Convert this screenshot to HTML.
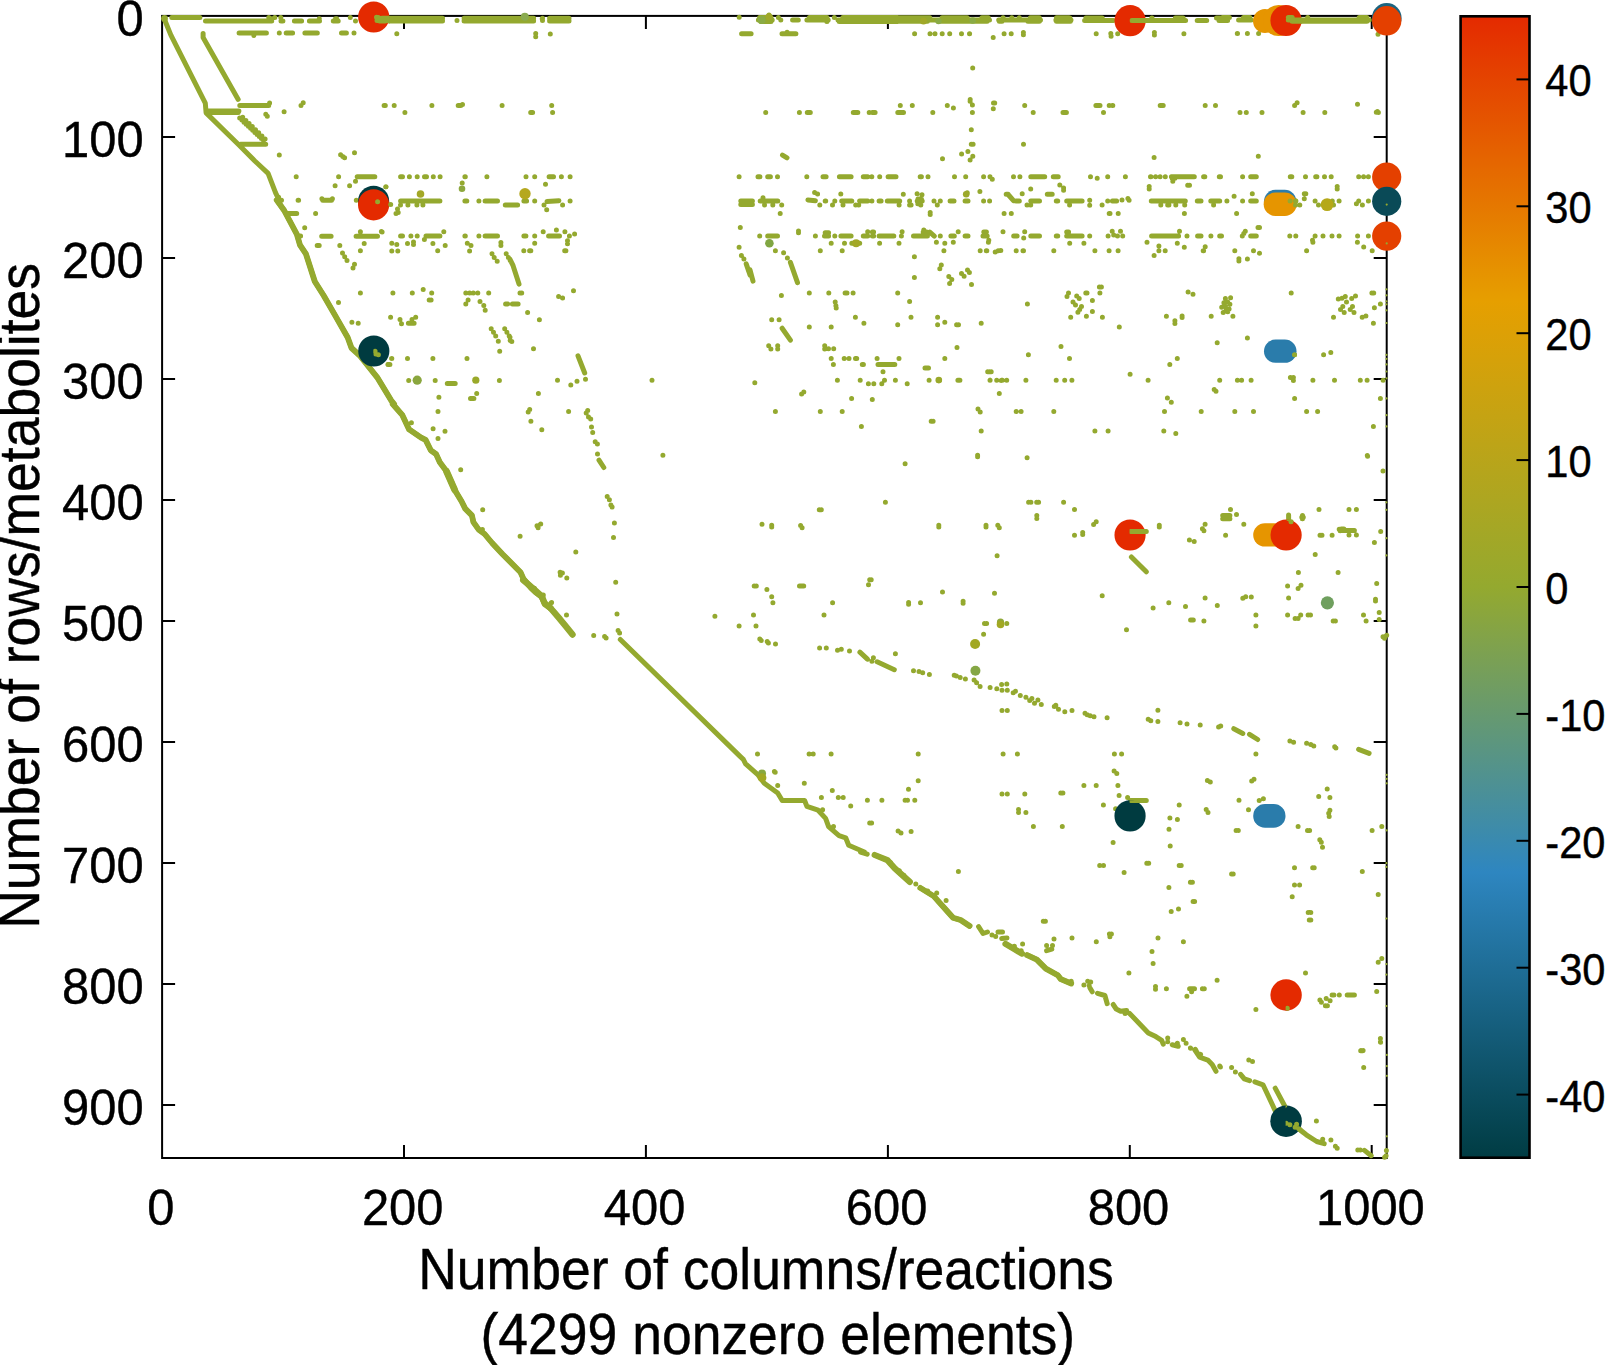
<!DOCTYPE html><html><head><meta charset="utf-8"><title>Stoichiometric matrix sparsity</title><style>html,body{margin:0;padding:0;background:#fff}svg{display:block}</style></head><body><svg width="1608" height="1365" viewBox="0 0 1608 1365">
<defs><linearGradient id="cb" x1="0" y1="1" x2="0" y2="0"><stop offset="0" stop-color="#003c43"/><stop offset="0.25" stop-color="#2e86c0"/><stop offset="0.5" stop-color="#94a92f"/><stop offset="0.75" stop-color="#e69f00"/><stop offset="1" stop-color="#e42a00"/></linearGradient></defs>
<rect width="1608" height="1365" fill="#fff"/>
<g stroke="#000" stroke-width="2" fill="none" stroke-linecap="butt">
<rect x="162.1" y="15.9" width="1224.6000000000001" height="1142.1"/>
<path d="M404.0 1158.0V1145.0M404.0 15.9V28.9"/>
<path d="M645.9 1158.0V1145.0M645.9 15.9V28.9"/>
<path d="M887.9 1158.0V1145.0M887.9 15.9V28.9"/>
<path d="M1129.8 1158.0V1145.0M1129.8 15.9V28.9"/>
<path d="M1371.7 1158.0V1145.0M1371.7 15.9V28.9"/>
<path d="M162.1 136.9H175.1M1386.7 136.9H1373.7"/>
<path d="M162.1 257.9H175.1M1386.7 257.9H1373.7"/>
<path d="M162.1 378.9H175.1M1386.7 378.9H1373.7"/>
<path d="M162.1 499.9H175.1M1386.7 499.9H1373.7"/>
<path d="M162.1 620.9H175.1M1386.7 620.9H1373.7"/>
<path d="M162.1 742.0H175.1M1386.7 742.0H1373.7"/>
<path d="M162.1 863.0H175.1M1386.7 863.0H1373.7"/>
<path d="M162.1 984.0H175.1M1386.7 984.0H1373.7"/>
<path d="M162.1 1105.0H175.1M1386.7 1105.0H1373.7"/>
</g>
<rect x="1460.6" y="16.3" width="68.90000000000009" height="1141.4" fill="url(#cb)" stroke="#000" stroke-width="2.6"/>
<g stroke="#000" stroke-width="2">
<path d="M1529.5 1094.6H1516.5"/>
<path d="M1529.5 967.7H1516.5"/>
<path d="M1529.5 840.8H1516.5"/>
<path d="M1529.5 713.9H1516.5"/>
<path d="M1529.5 587.0H1516.5"/>
<path d="M1529.5 460.1H1516.5"/>
<path d="M1529.5 333.2H1516.5"/>
<path d="M1529.5 206.3H1516.5"/>
<path d="M1529.5 79.4H1516.5"/>
</g>
<g font-family="Liberation Sans, Arial, Helvetica, sans-serif" fill="#000" stroke="#000" stroke-width="0.4">
<text transform="translate(160.8,1225.1) scale(1,1.04)" font-size="48.9" text-anchor="middle">0</text>
<text transform="translate(402.7,1225.1) scale(1,1.04)" font-size="48.9" text-anchor="middle">200</text>
<text transform="translate(644.6,1225.1) scale(1,1.04)" font-size="48.9" text-anchor="middle">400</text>
<text transform="translate(886.6,1225.1) scale(1,1.04)" font-size="48.9" text-anchor="middle">600</text>
<text transform="translate(1128.5,1225.1) scale(1,1.04)" font-size="48.9" text-anchor="middle">800</text>
<text transform="translate(1370.4,1225.1) scale(1,1.04)" font-size="48.9" text-anchor="middle">1000</text>
<text transform="translate(143.6,36.0) scale(1,1.04)" font-size="48.9" text-anchor="end">0</text>
<text transform="translate(143.6,157.0) scale(1,1.04)" font-size="48.9" text-anchor="end">100</text>
<text transform="translate(143.6,278.0) scale(1,1.04)" font-size="48.9" text-anchor="end">200</text>
<text transform="translate(143.6,399.0) scale(1,1.04)" font-size="48.9" text-anchor="end">300</text>
<text transform="translate(143.6,520.0) scale(1,1.04)" font-size="48.9" text-anchor="end">400</text>
<text transform="translate(143.6,641.0) scale(1,1.04)" font-size="48.9" text-anchor="end">500</text>
<text transform="translate(143.6,762.1) scale(1,1.04)" font-size="48.9" text-anchor="end">600</text>
<text transform="translate(143.6,883.1) scale(1,1.04)" font-size="48.9" text-anchor="end">700</text>
<text transform="translate(143.6,1004.1) scale(1,1.04)" font-size="48.9" text-anchor="end">800</text>
<text transform="translate(143.6,1125.1) scale(1,1.04)" font-size="48.9" text-anchor="end">900</text>
<text transform="translate(1545.3,1111.5) scale(1,1.045)" font-size="41.6" text-anchor="start">-40</text>
<text transform="translate(1545.3,984.6) scale(1,1.045)" font-size="41.6" text-anchor="start">-30</text>
<text transform="translate(1545.3,857.7) scale(1,1.045)" font-size="41.6" text-anchor="start">-20</text>
<text transform="translate(1545.3,730.8) scale(1,1.045)" font-size="41.6" text-anchor="start">-10</text>
<text transform="translate(1545.3,603.9) scale(1,1.045)" font-size="41.6" text-anchor="start">0</text>
<text transform="translate(1545.3,477.0) scale(1,1.045)" font-size="41.6" text-anchor="start">10</text>
<text transform="translate(1545.3,350.1) scale(1,1.045)" font-size="41.6" text-anchor="start">20</text>
<text transform="translate(1545.3,223.2) scale(1,1.045)" font-size="41.6" text-anchor="start">30</text>
<text transform="translate(1545.3,96.3) scale(1,1.045)" font-size="41.6" text-anchor="start">40</text>
<text transform="translate(766.0,1288.9) scale(1,1.06)" font-size="53.5" text-anchor="middle">Number of columns/reactions</text>
<text transform="translate(777.8,1354.3) scale(1,1.06)" font-size="53.5" text-anchor="middle">(4299 nonzero elements)</text>
<text transform="translate(39.2,595.9) rotate(-90) scale(1,1.06)" font-size="53.5" text-anchor="middle">Number of rows/metabolites</text>
</g>
<path id="ol" d="M164.2 18.7L170.9 35.1L205.3 103.1L206.1 112.9L238.2 144.2L254.6 160.7L268.1 173.4L275.6 192.8L280.0 201.8M203.1 33.6L203.1 37.4L238.2 99.4M239.8 105.4L268.7 105.4M301.0 105.4L301.0 105.4M384.1 105.4L385.3 105.4M269.6 103.1h0M303.2 102.8h0M253.9 35.4h0M206.1 110.9L238.9 110.9M206.1 112.4L238.2 112.4M239.7 118.1h0M241.9 120.1h0M244.0 122.2h0M246.2 124.2h0M248.4 126.2h0M250.6 128.3h0M252.7 130.3h0M254.9 132.4h0M257.1 134.4h0M259.3 136.4h0M261.4 138.5h0M263.6 140.5h0M242.7 117.3h0M245.9 120.4h0M249.1 123.5h0M252.3 126.6h0M255.5 129.7h0M258.7 132.8h0M261.9 135.9h0M265.1 139.0h0M240.6 144.2L265.7 144.2M171.8 17.6L199.9 17.6M268.8 17.6L268.8 17.6M274.8 17.6L274.8 17.6M280.8 17.6L280.8 17.6M350.3 17.6h0M378.3 17.6L378.3 17.6M205.5 20.9L271.7 20.9M281.0 20.9L282.9 20.9M294.4 20.9L301.6 20.9M309.4 20.9L319.5 20.9M333.3 20.9L338.2 20.9M355.5 20.9h0M379.6 20.9L385.3 20.9M271.8 18.7L271.8 18.7M319.3 18.7L319.3 18.7M335.5 18.7L336.7 18.7M387.7 18.7h0M239.1 32.9L266.4 32.9M279.3 32.9h0M286.2 32.9L292.6 32.9M304.9 32.9L317.3 32.9M341.5 32.9L346.4 32.9M354.0 32.9h0M265.8 114.3h0M267.3 116.3h0M284.1 111.8h0M279.3 155.0h0M340.6 154.7h0M342.8 156.5h0M344.6 157.7h0M354.5 152.8h0M296.2 176.8h0M338.6 176.8h0M355.5 181.2h0M335.1 185.7h0M349.6 185.7h0M385.9 186.8h0M357.2 176.8L374.8 176.8M281.5 200.3h0M298.1 200.3L298.6 200.3M322.8 200.3L331.5 200.3M356.3 200.3h0M321.9 198.8h0M332.4 198.8h0M278.6 197.3h0M392.6 20.5L442.5 20.5M457.0 20.5h0M464.1 20.5L497.6 20.5M392.6 18.7L409.5 18.7M396.8 33.8h0M482.4 20.5L533.6 20.5M542.5 20.5L542.5 20.5M549.6 20.5L569.0 20.5M484.9 18.7L485.1 18.7M500.5 18.7L500.5 18.7M529.7 18.7L532.3 18.7M542.2 18.7h0M552.1 18.7L552.2 18.7M562.0 18.7L568.4 18.7M535.7 33.6h0M535.7 36.7h0M550.3 34.0h0M758.4 19.9L772.2 19.9M780.8 19.9h0M792.6 19.9L798.3 19.9M806.9 19.9L828.2 19.9M838.0 19.9L897.6 19.9M759.6 17.4L771.0 17.4M778.4 17.4h0M809.4 17.4L827.0 17.4M834.3 17.4h0M842.9 17.4L897.6 17.4M760.9 21.4L771.0 21.4M826.8 21.4L827.0 21.4M839.2 21.4L897.6 21.4M739.2 17.2h0M769.0 14.9h0M741.6 33.8L751.1 33.8M782.0 33.8L795.9 33.8M787.1 32.3h0M882.4 19.9L989.5 19.9M998.7 19.9L1040.5 19.9M1055.9 19.9L1071.0 19.9M882.4 17.7L929.8 17.7M942.1 17.7L967.2 17.7M981.9 17.7L988.3 17.7M1003.1 17.7L1003.1 17.7M1011.8 17.7h0M1019.3 17.7h0M1030.4 17.7L1039.3 17.7M1056.5 17.7L1069.1 17.7M882.4 21.3L927.4 21.3M940.9 21.3L987.1 21.3M999.3 21.3L1002.0 21.3M1027.9 21.3L1039.3 21.3M1056.5 21.3L1070.4 21.3M914.6 33.8h0M930.0 33.8h0M935.0 33.8h0M942.2 33.8h0M949.7 33.8L949.7 33.8M961.5 33.8h0M969.5 33.8L969.6 33.8M1004.1 33.8h0M1011.2 33.8h0M993.2 37.6h0M972.7 68.0h0M1023.4 32.6h0M1023.4 34.8h0M970.2 99.5h0M1032.4 20.5L1040.0 20.5M1056.0 20.5L1070.5 20.5M1084.6 20.5L1113.4 20.5M1131.9 20.5L1185.6 20.5M1197.2 20.5L1206.7 20.5M1219.0 20.5L1227.6 20.5M1032.4 18.0L1038.8 18.0M1057.3 18.0L1069.9 18.0M1085.9 18.0L1102.2 18.0M1151.8 18.0L1152.0 18.0M1175.4 18.0L1183.1 18.0M1216.5 18.0L1227.6 18.0M1096.2 33.8h0M1110.8 33.6h0M1111.1 36.3h0M1117.7 33.8h0M1154.4 32.6h0M1154.4 35.1h0M1183.9 33.8h0M1221.9 19.9L1221.9 19.9M1238.6 19.9L1251.2 19.9M1288.3 19.9L1369.3 19.9M1222.4 17.4L1229.4 17.4M1243.5 17.4L1249.9 17.4M1288.3 17.4L1292.2 17.4M1307.7 17.4L1307.7 17.4M1359.2 17.4L1366.9 17.4M1292.1 21.3L1366.9 21.3M1237.3 33.6L1237.5 33.6M1247.4 33.6h0M1258.6 33.6h0M1378.0 34.2h0M377.0 20.5L387.8 20.5M376.5 17.2h0M382.0 18.2L442.5 18.2M464.1 18.2L497.6 18.2M389.5 21.1L442.5 21.1M464.1 21.1L497.6 21.1M482.4 18.2L533.6 18.2M542.5 18.2L542.5 18.2M549.6 18.2L569.0 18.2M482.4 21.1L533.6 21.1M549.6 21.1L569.0 21.1M394.2 105.5h0M431.9 105.5h0M458.2 105.5L460.8 105.5M502.1 105.5h0M551.7 105.5h0M404.9 112.5h0M552.6 112.5h0M462.5 104.6h0M530.7 112.5L532.6 112.5M400.6 176.8L402.5 176.8M409.4 176.8h0M417.2 176.8h0M424.5 176.8L426.5 176.8M433.3 176.8h0M440.1 176.8L440.1 176.8M464.9 176.8L465.3 176.8M486.9 176.8h0M526.0 176.8h0M534.7 176.8h0M549.1 176.8L553.5 176.8M561.4 176.8h0M570.1 176.8h0M462.2 183.0h0M545.5 184.2h0M400.6 201.1L439.9 201.1M464.9 201.1L466.8 201.1M478.9 201.1h0M485.1 201.1L497.5 201.1M523.9 201.1L526.6 201.1M534.7 201.1h0M570.1 201.1h0M505.3 204.9L517.6 204.9M400.5 204.9h0M407.9 204.9h0M416.9 204.9h0M422.9 204.9h0M390.7 204.4h0M397.5 208.9h0M398.2 212.6h0M396.0 213.4h0M546.7 209.7h0M544.0 204.9h0M562.6 204.9h0M547.0 201.4L558.9 200.7M400.6 236.1L402.5 236.1M410.9 236.1h0M417.2 236.1h0M426.0 236.1L439.9 236.1M464.9 236.1L465.3 236.1M478.9 236.1h0M485.1 236.1L497.5 236.1M523.9 236.1L525.9 236.1M534.7 236.1h0M548.6 236.1L559.5 236.1M569.4 236.1h0M443.8 231.8h0M424.4 239.6h0M543.2 231.8h0M556.4 230.1h0M564.9 231.8h0M574.6 234.0h0M765.7 112.5h0M799.4 112.5h0M807.3 112.5L810.3 112.5M853.3 112.5L857.8 112.5M869.2 112.5h0M782.5 155.1L787.0 157.8M739.1 176.8h0M758.0 176.8L759.9 176.8M767.7 176.8L770.4 176.8M777.5 176.8h0M806.8 176.8h0M823.0 176.8L826.1 176.8M839.4 176.8L851.1 176.8M863.3 176.8L867.7 176.8M740.8 201.1L752.4 201.1M760.2 201.1L777.8 201.1M825.2 201.1L825.7 201.1M834.8 201.1h0M841.7 201.1L851.8 201.1M859.6 201.1L867.7 201.1M740.8 204.4L752.4 204.4M763.0 197.7h0M764.5 204.9h0M772.8 204.9h0M781.7 204.9h0M780.2 213.4h0M814.6 192.5h0M817.6 194.0h0M819.8 204.9h0M832.5 204.9h0M840.8 194.0h0M843.0 204.9h0M855.7 204.9h0M858.7 204.9h0M807.9 199.9L815.4 200.7M759.7 236.1L759.7 236.1M767.7 236.1L777.5 236.1M815.4 236.1h0M824.5 236.1L828.6 236.1M834.8 236.1h0M840.9 236.1L851.1 236.1M863.3 236.1L867.7 236.1M825.2 232.8L828.6 232.8M740.3 227.6h0M798.5 231.0h0M798.5 232.8h0M867.7 231.8h0M900.3 105.5h0M912.3 105.5h0M947.3 105.5h0M1024.7 105.5h0M1095.9 105.5L1100.0 105.5M1109.2 105.5h0M953.4 108.0h0M970.1 101.3h0M972.4 105.0h0M993.3 108.8h0M993.5 103.1L994.7 103.1M872.4 112.5L875.1 112.5M897.8 112.5L903.5 112.5M932.8 112.5h0M972.4 112.5h0M1033.2 112.5h0M1063.0 112.5L1066.4 112.5M1103.5 112.5h0M971.3 129.7h0M971.3 144.2h0M973.1 144.2h0M1023.5 144.2h0M967.9 151.4h0M961.6 154.1h0M972.8 156.3h0M970.1 160.0h0M942.5 158.8h0M871.8 176.8h0M879.7 176.8L879.7 176.8M888.1 176.8L896.0 176.8M920.2 176.8L921.4 176.8M928.0 176.8h0M954.5 176.8h0M965.7 176.8h0M983.6 176.8h0M990.0 176.8L990.0 176.8M1013.5 176.8L1013.5 176.8M1019.9 176.8h0M1030.8 176.8L1044.7 176.8M1053.3 176.8L1058.2 176.8M1090.5 176.8h0M1107.7 176.8h0M992.3 179.3h0M1097.2 178.3h0M1059.8 185.0h0M1063.6 188.0h0M1063.6 190.2h0M1030.7 189.0h0M979.9 191.4h0M1022.2 193.7h0M966.4 193.7h0M967.2 192.8h0M903.3 194.3L903.3 194.3M1006.2 194.3L1008.1 194.3M1047.3 194.3L1052.2 194.3M917.1 193.7h0M922.0 194.7h0M871.9 201.1L871.9 201.1M879.1 201.1L881.1 201.1M887.3 201.1L899.7 201.1M917.2 201.1L922.2 201.1M934.0 201.1h0M940.3 201.1h0M950.1 201.1L954.0 201.1M965.1 201.1L968.0 201.1M983.6 201.1h0M989.6 201.1h0M1015.9 201.1L1019.3 201.1M1030.8 201.1L1039.5 201.1M1056.3 201.1L1057.7 201.1M1066.7 201.1L1082.1 201.1M1107.7 201.1L1107.7 201.1M918.0 198.9L921.4 198.9M899.1 204.9h0M909.6 201.1h0M909.6 204.9h0M911.1 204.9h0M920.8 204.9h0M917.8 203.7h0M937.3 204.9h0M1027.0 204.9h0M1030.7 204.9h0M1069.6 204.9h0M1089.7 200.2h0M1089.7 205.2h0M1102.1 204.9h0M1009.0 195.5L1013.5 200.7M930.2 212.6h0M930.2 214.6h0M1004.1 213.4h0M1011.3 213.4h0M1109.2 213.4h0M872.4 236.1L873.6 236.1M879.1 236.1L893.8 236.1M901.4 236.1h0M913.5 236.1L927.4 236.1M940.3 236.1h0M950.9 236.1L954.3 236.1M965.1 236.1L968.0 236.1M983.0 236.1L987.2 236.1M1013.7 236.1L1017.1 236.1M1030.8 236.1L1039.5 236.1M1056.3 236.1L1057.7 236.1M1066.7 236.1L1082.1 236.1M1089.7 236.1h0M1108.1 236.1L1108.1 236.1M872.4 232.1L873.6 232.1M923.2 232.1L926.6 232.1M983.8 232.1L986.4 232.1M1066.7 232.1L1068.6 232.1M902.1 231.8h0M923.8 230.1h0M958.2 231.8h0M988.8 240.3h0M1003.0 231.8h0M1024.7 231.8h0M1023.7 238.1h0M929.8 232.1L934.3 236.1M1112.4 105.5L1112.8 105.5M1160.2 105.5L1163.2 105.5M1205.2 105.5h0M1215.5 105.5L1215.5 105.5M1294.6 105.5h0M1297.1 102.8h0M1240.0 112.5h0M1246.3 112.5h0M1262.0 112.5h0M1303.1 112.5h0M1324.8 112.5h0M1154.1 157.6h0M1258.3 156.3h0M1125.4 176.8h0M1150.5 176.8L1150.9 176.8M1155.6 176.8h0M1160.1 176.8h0M1165.3 176.8h0M1171.4 176.8L1194.3 176.8M1203.6 176.8L1204.8 176.8M1219.3 176.8L1220.5 176.8M1242.6 176.8h0M1250.7 176.8L1256.3 176.8M1290.3 176.8L1291.8 176.8M1305.5 176.8h0M1315.7 176.8L1316.9 176.8M1324.5 176.8L1324.5 176.8M1331.2 176.8h0M1172.2 178.3L1174.9 178.3M1172.8 181.3h0M1187.7 185.3h0M1189.5 185.3h0M1149.2 186.5h0M1149.2 189.0h0M1337.2 186.5h0M1337.2 189.0h0M1112.4 201.1L1116.6 201.1M1151.3 201.1L1185.3 201.1M1197.3 201.1L1201.0 201.1M1210.8 201.1L1219.7 201.1M1226.9 201.1h0M1242.6 201.1h0M1250.7 201.1L1256.3 201.1M1290.1 201.1h0M1295.5 201.1L1295.9 201.1M1315.1 201.1h0M1332.3 201.1L1332.3 201.1M1339.1 201.1L1339.1 201.1M1160.8 204.9L1160.8 204.9M1167.7 204.9L1168.9 204.9M1175.8 204.9h0M1184.7 204.9h0M1213.6 204.9h0M1299.8 204.9h0M1318.5 204.9h0M1333.5 204.9h0M1295.4 204.9h0M1122.0 199.9h0M1127.9 198.4h0M1129.1 200.2h0M1234.1 196.2h0M1252.3 193.7h0M1304.3 193.7h0M1305.8 193.7h0M1304.3 198.7h0M1110.0 213.4h0M1118.2 213.4h0M1184.4 213.4h0M1236.6 213.4h0M1258.0 227.6h0M1259.5 227.6h0M1117.5 236.1h0M1122.7 236.1h0M1151.6 236.1L1178.6 236.1M1187.0 236.1h0M1197.6 236.1L1201.0 236.1M1210.9 236.1L1210.9 236.1M1219.7 236.1L1221.5 236.1M1242.3 236.1h0M1250.7 236.1L1256.3 236.1M1289.8 236.1h0M1295.8 236.1h0M1315.1 236.1h0M1323.0 236.1h0M1332.0 236.1L1332.0 236.1M1339.1 236.1L1339.1 236.1M1112.2 231.3h0M1120.5 231.3h0M1113.7 235.1h0M1179.5 231.3h0M1245.3 231.3h0M1243.8 233.6h0M1312.5 240.3h0M1357.5 104.3h0M1376.3 112.2h0M1378.4 112.5h0M1377.4 111.4h0M1358.7 176.8h0M1363.6 176.8h0M1368.4 176.8h0M1356.4 203.7h0M1358.7 201.1h0M1362.4 204.9h0M1368.4 201.1h0M1357.6 236.1L1357.6 236.1M1368.4 236.1h0M276.7 200.0L284.2 210.5L296.9 234.4L299.9 244.8L305.9 253.8L314.8 281.5L323.8 295.7L335.8 316.6L347.7 337.5L351.5 348.0L359.7 355.5L377.6 377.9L391.1 400.3L394.1 404.0M286.6 213.5L296.7 213.5M315.6 213.5h0M304.7 227.7h0M300.6 235.9h0M321.7 236.2L331.1 236.2M356.1 236.2L377.5 236.2M360.4 231.7h0M381.4 231.4h0M382.1 232.0h0M317.2 245.6L319.2 245.6M339.8 245.6h0M364.2 243.6h0M360.4 250.8h0M342.5 253.1h0M344.7 256.8h0M347.0 260.5h0M354.5 264.3h0M353.0 268.0h0M391.8 243.3h0M396.8 244.4h0M391.8 251.1h0M397.8 251.1h0M407.5 243.6h0M413.5 241.9h0M413.5 244.4h0M432.9 243.6h0M445.2 245.6h0M437.7 250.8h0M467.3 243.3h0M471.0 245.6h0M469.6 251.1h0M500.9 242.6h0M500.9 245.6h0M492.0 253.8h0M494.2 257.5h0M497.2 261.3h0M506.2 253.8h0M508.4 257.5h0M510.1 260.5h0M360.4 293.1h0M392.9 293.1h0M412.3 293.1h0M431.7 293.1h0M465.8 293.1h0M469.6 293.1h0M473.3 293.1h0M477.8 293.1h0M488.7 293.1h0M423.2 289.4h0M429.2 300.1h0M431.1 300.1h0M338.5 302.4h0M468.1 299.9h0M465.8 303.9h0M480.0 301.6h0M483.8 305.4h0M485.2 310.3h0M505.6 303.9L507.7 303.9M390.6 317.3h0M400.0 319.6h0M401.5 323.8h0M415.7 317.3h0M412.0 319.6h0M408.4 323.3L414.1 323.3M351.9 322.3h0M358.2 323.3h0M491.2 328.8h0M493.5 332.3h0M495.7 336.0h0M498.3 341.3h0M504.7 328.8h0M506.9 332.3h0M509.2 336.0h0M510.1 340.5h0M499.7 351.3h0M391.8 358.4h0M407.5 358.4h0M432.9 358.4h0M467.0 358.4h0M388.1 364.4h0M389.9 364.4h0M408.7 380.4h0M435.2 380.4h0M499.4 380.4h0M447.3 383.6L455.2 383.6M438.9 397.3h0M476.7 393.6h0M470.5 398.5L473.9 398.5M377.6 201.8h0M375.1 351.3h0M375.8 354.0h0M378.4 354.7h0M534.7 243.3h0M523.8 250.8h0M567.5 240.7h0M567.5 243.7h0M739.1 247.2h0M741.4 255.4h0M743.9 259.1h0M529.6 250.8L530.8 250.8M564.7 250.8L565.9 250.8M510.0 259.4L513.0 265.4L519.0 284.1M746.2 263.9L750.1 275.1M520.0 293.1h0M521.7 293.1h0M527.6 312.5h0M539.4 319.7h0M510.0 337.2h0M511.8 341.6h0M533.5 348.7h0M573.5 290.8h0M558.6 296.5h0M562.6 298.0h0M512.4 304.0L518.1 304.0M578.0 355.8L584.7 373.0M585.5 379.3h0M577.0 381.3h0M570.8 385.0h0M557.5 380.2h0M538.4 393.5h0M652.0 380.2h0M529.7 409.4h0M528.2 411.9h0M530.9 421.3h0M541.8 429.8h0M568.6 411.6h0M587.7 410.4h0M586.2 413.1h0M588.5 417.1h0M590.7 418.9h0M591.5 427.1h0M592.7 432.4h0M595.2 441.8h0M597.4 444.0h0M831.2 243.3h0M844.5 243.3h0M851.8 243.3L859.7 243.3M879.6 243.3h0M899.0 243.3h0M944.8 243.3h0M936.4 242.2L936.4 242.2M953.3 242.2L953.3 242.2M988.4 242.2L988.4 242.2M775.4 250.8h0M820.3 250.8h0M842.2 250.8h0M943.9 250.8h0M980.2 250.8h0M986.3 250.8L986.8 250.8M914.4 256.7h0M914.4 277.4h0M783.6 252.7h0M787.4 257.9h0M790.4 262.4L797.5 282.6M750.0 269.9L753.0 281.1M941.3 265.1h0M939.8 268.7h0M948.8 276.6h0M951.8 279.6h0M949.6 283.6h0M961.5 273.6h0M964.1 276.3h0M967.5 269.9h0M969.4 272.6h0M971.5 284.5h0M809.3 293.1h0M828.8 293.1h0M845.1 293.1L847.0 293.1M853.1 293.1h0M897.7 293.1h0M781.4 295.6h0M835.2 302.0h0M835.9 305.8h0M836.2 308.0h0M909.6 301.6h0M855.4 317.3h0M863.9 323.3h0M911.0 317.3h0M897.7 324.8h0M937.6 317.3h0M944.8 322.2h0M937.6 324.8h0M956.6 324.8h0M958.5 324.8h0M981.2 323.3h0M771.7 319.7h0M779.1 319.7h0M809.3 327.0h0M831.2 327.0h0M782.1 328.2L790.4 340.1M768.7 345.8h0M770.9 349.1h0M777.7 345.8h0M777.7 349.1h0M824.7 345.8h0M824.7 349.1h0M828.5 348.7h0M833.7 348.7h0M831.2 358.5h0M844.2 358.5h0M849.0 358.5h0M855.5 358.5L856.7 358.5M877.1 358.5h0M899.0 358.5h0M944.8 358.5h0M833.4 364.4h0M862.3 364.4L863.4 364.4M878.0 364.4L894.8 364.4M957.0 347.6h0M883.0 371.8h0M987.7 371.8h0M989.5 371.8h0M925.0 368.1L928.5 368.1M837.4 380.2h0M860.2 380.2h0M884.5 380.2h0M895.4 380.2h0M929.1 380.2h0M957.9 380.2L959.9 380.2M990.1 380.2h0M868.4 383.8h0M873.8 383.8h0M881.8 383.8h0M907.2 383.8h0M754.8 382.8h0M938.8 380.2h0M939.5 380.2h0M938.3 380.5h0M801.6 394.0h0M803.8 392.0h0M851.6 398.4h0M872.3 399.6h0M978.0 408.9h0M980.2 411.9h0M931.2 421.3h0M933.1 421.3h0M861.4 426.4h0M981.2 431.0h0M775.4 411.6h0M820.3 411.6h0M842.2 411.6h0M1069.7 243.3h0M1083.9 243.3h0M1177.3 243.3h0M1147.0 242.2L1147.0 242.2M1158.9 246.0h0M1184.3 247.2h0M1205.2 246.7h0M1016.2 250.8h0M1023.0 250.8L1023.5 250.8M1053.8 250.8h0M1094.9 250.8h0M1109.1 250.8L1109.1 250.8M1118.1 250.8h0M1158.9 250.8h0M1165.2 250.8h0M1203.2 250.8L1203.6 250.8M995.2 252.0h0M998.2 250.8h0M1000.8 250.5h0M1154.1 255.4h0M1068.5 293.1h0M1067.0 296.5h0M1076.7 296.1h0M1079.2 298.6h0M1073.0 302.0h0M1075.5 305.0h0M1081.5 306.5h0M1079.7 309.5h0M1077.9 312.2h0M1099.4 287.1h0M1101.4 287.1h0M1099.9 293.1h0M1092.4 300.5h0M1092.4 311.4h0M1070.7 317.3h0M1086.4 316.2h0M1102.4 317.3h0M1119.3 327.0h0M1085.8 293.1L1087.0 293.1M1027.4 304.0h0M1188.1 291.9h0M1193.0 294.3h0M1166.4 316.2h0M1174.9 320.7h0M1174.9 323.4h0M1182.1 315.9h0M1182.1 317.4h0M1211.2 316.2h0M1217.2 342.7h0M1061.0 346.4h0M1028.4 354.8h0M1069.5 358.5h0M1177.3 358.5h0M1169.8 364.5h0M1130.1 374.2h0M990.0 380.2h0M996.7 380.2h0M1001.7 380.2h0M1006.7 380.2h0M1025.9 380.2h0M1056.2 380.2h0M1064.7 380.2h0M1071.9 380.2h0M1148.1 380.2h0M1219.7 380.2h0M1001.2 380.5h0M1002.3 380.2h0M991.2 371.8h0M999.3 393.5h0M1214.2 389.5h0M1216.0 391.3h0M1167.4 398.1h0M1171.3 402.2h0M1016.2 411.6h0M1021.1 411.6h0M1053.8 411.6h0M1164.5 411.6L1164.5 411.6M1201.2 411.6h0M1094.9 431.0h0M1108.1 431.0h0M1163.8 431.0h0M1175.8 433.6h0M1234.8 250.8L1234.8 250.8M1253.5 250.8h0M1306.6 250.8h0M1372.2 250.8h0M1259.5 253.2h0M1363.7 247.0h0M1238.9 258.7h0M1238.9 260.9h0M1247.4 259.1h0M1312.9 242.2L1312.9 242.2M1357.4 242.2L1357.4 242.2M1225.4 298.6h0M1230.6 297.8h0M1223.9 302.8h0M1227.7 302.0h0M1229.9 304.3h0M1221.7 307.3h0M1225.4 306.5h0M1229.1 309.1h0M1223.2 312.5h0M1227.7 311.7h0M1226.2 310.3h0M1232.9 316.2h0M1291.2 293.1h0M1338.3 299.0h0M1342.0 298.3h0M1345.3 296.5h0M1355.5 296.1h0M1351.7 298.6h0M1346.5 302.0h0M1342.8 306.5h0M1340.5 309.5h0M1344.2 312.5h0M1352.5 306.5h0M1350.2 309.5h0M1354.0 312.5h0M1371.9 293.1h0M1373.7 293.1h0M1380.4 304.0h0M1374.4 307.7h0M1333.5 317.3h0M1362.2 317.3h0M1365.9 315.9h0M1373.4 323.3h0M1247.4 337.9h0M1294.5 354.8h0M1323.6 354.8h0M1330.8 352.4h0M1237.4 380.2h0M1241.6 380.2h0M1251.1 380.2h0M1312.9 380.2L1312.9 380.2M1334.5 380.2h0M1360.3 380.2L1360.3 380.2M1367.1 380.2h0M1383.1 380.2h0M1290.4 377.5h0M1293.4 377.5h0M1293.4 380.5h0M1294.6 398.4h0M1380.4 398.4h0M1373.4 426.4h0M1234.8 411.6L1234.8 411.6M1253.5 411.6h0M1306.6 411.6h0M1317.6 411.6h0M392.7 404.0L402.4 415.2L409.1 429.4L421.1 437.6L425.6 439.9L430.8 450.3L436.1 454.1L439.8 462.3L446.5 471.3L454.7 489.9L461.5 501.2L465.2 508.6L471.9 515.4L473.4 522.1L478.7 529.6L484.6 534.0L492.1 543.0L502.6 554.2L520.5 572.2L523.5 578.9L531.0 587.9L535.5 592.3L541.4 596.8L544.4 602.8L550.4 608.0M446.5 471.3L454.7 489.9M411.4 422.7h0M438.0 411.5h0M433.1 428.7h0M445.0 431.2h0M438.0 438.4h0M460.7 469.8h0M482.7 509.7h0M482.4 529.6h0M551.2 602.8h0M448.8 475.7h0M451.7 481.7h0M597.5 454.1h0M607.2 496.4h0M609.4 499.7h0M610.9 504.9h0M612.1 507.1h0M614.4 523.1h0M613.5 537.5h0M615.7 582.3h0M599.0 460.1L603.8 467.5M540.7 524.0h0M537.0 525.8h0M538.1 527.8h0M520.1 536.3h0M575.8 552.0h0M560.1 572.2h0M562.4 572.9h0M560.4 575.2h0M566.8 578.1h0M662.9 455.2h0M819.3 509.8h0M821.3 509.8h0M762.0 524.3h0M771.7 525.2h0M771.7 527.0h0M800.6 525.5h0M802.1 527.7h0M754.2 586.0h0M756.3 586.0h0M766.9 589.4h0M771.7 596.8h0M772.9 602.7h0M832.6 602.7h0M824.0 614.9h0M714.9 616.2h0M753.5 614.9h0M739.1 625.9h0M756.0 625.9h0M759.8 639.1h0M761.3 640.6h0M767.2 641.6h0M768.4 643.1h0M775.5 644.0h0M799.5 586.0L803.7 586.0M550.4 608.0L559.8 618.9L565.8 626.3L572.5 634.6M523.2 580.0L534.4 589.7L541.9 596.4L544.8 603.9L550.4 608.0M593.7 635.6h0M604.6 636.5h0M606.1 638.0h0M618.1 630.5h0M619.6 633.1h0M566.5 615.1h0M617.0 613.9h0M551.6 602.4h0M543.3 594.9h0M534.4 588.2h0M620.3 639.5L740.1 756.4M905.1 463.7h0M977.6 455.2h0M977.6 456.7h0M1027.1 457.8h0M885.4 502.3h0M1028.6 502.3h0M1030.9 502.3h0M1036.7 502.3h0M1038.6 502.3h0M1063.6 502.3h0M1074.5 509.5h0M1036.8 515.4h0M1036.8 518.4h0M938.8 525.2h0M938.8 527.0h0M986.0 525.2h0M986.0 527.0h0M997.8 525.2h0M999.3 527.7h0M1096.2 521.7h0M1093.6 524.4h0M1074.5 535.2h0M1082.7 532.5h0M1082.7 534.4h0M997.1 555.7h0M869.7 579.7h0M871.2 579.7h0M868.5 584.8h0M942.5 592.0h0M994.5 593.2h0M908.6 602.4h0M908.6 604.2h0M920.5 602.7h0M963.1 601.2h0M963.1 603.2h0M984.5 623.4h0M986.6 623.4h0M1006.8 623.4h0M983.6 634.3h0M1130.6 531.4L1146.3 531.4M1131.4 556.9L1146.3 571.8M1159.3 525.2h0M1159.3 527.0h0M1189.4 540.0h0M1194.2 541.5h0M1202.4 528.8h0M1203.9 530.7h0M1205.1 524.3h0M1230.5 509.5h0M1236.5 514.6h0M1243.8 524.3h0M1225.6 535.2h0M1222.7 515.4L1229.9 515.4M1222.7 518.7L1229.9 518.7M1288.6 515.0L1288.6 518.7M1291.0 521.7h0M1302.5 515.4h0M1302.5 518.7h0M1301.8 517.2h0M1303.3 517.2h0M1319.0 509.5h0M1320.0 535.2h0M1322.0 535.2h0M1332.1 535.2h0M1339.2 529.2h0M1340.1 530.7h0M1315.2 554.6h0M1298.4 572.6h0M1338.1 572.6h0M1287.6 586.0h0M1301.0 585.3h0M1298.1 588.5h0M1102.2 595.7h0M1205.1 598.0h0M1242.8 598.3h0M1245.7 596.8h0M1251.3 596.9h0M1288.6 598.0h0M1168.8 602.7h0M1153.1 608.0h0M1185.5 606.5h0M1217.3 605.4h0M1255.9 614.9h0M1287.6 614.9h0M1300.7 614.9h0M1295.1 618.6h0M1298.1 618.6h0M1308.1 614.9h0M1310.5 614.9h0M1203.9 621.1h0M1333.2 621.1h0M1335.4 621.1h0M1255.9 625.9h0M1126.5 629.7h0M1190.6 619.9L1193.3 619.9M1367.3 455.4h0M1367.6 456.3h0M1383.0 470.9h0M1349.0 509.5h0M1356.4 509.5h0M1349.0 534.9h0M1356.4 534.9h0M1380.7 531.4h0M1374.4 542.4h0M1376.7 583.5h0M1375.5 599.2h0M1375.5 601.0h0M1363.5 614.9h0M1379.2 612.6h0M1366.1 621.1h0M1379.2 619.6h0M1383.0 636.8h0M1386.7 635.3h0M1384.5 638.3h0M1340.5 530.4L1354.4 530.4M1341.3 528.9L1343.9 528.9M740.1 756.4L743.3 759.4L745.6 763.8L757.5 774.3L764.3 783.3L777.7 793.0L782.2 800.5L804.6 800.5L806.9 806.4L818.1 810.2L825.6 818.4L828.6 826.6L839.0 835.6L845.7 837.8L848.7 845.3L864.4 852.0M757.5 754.1h0M809.1 754.1h0M813.2 754.1h0M831.1 754.1h0M918.2 754.1h0M774.4 771.5h0M775.2 772.2h0M777.7 785.5h0M804.3 783.3h0M832.3 790.5h0M821.4 797.5h0M838.3 797.5h0M843.2 797.5h0M850.7 806.1h0M867.4 800.2h0M881.9 800.2h0M905.1 800.2h0M907.5 800.2h0M914.8 800.2h0M908.5 789.3h0M918.2 780.7h0M822.6 809.7h0M833.5 826.6h0M869.7 822.9h0M871.6 822.9h0M898.1 831.1h0M901.0 832.9h0M911.1 831.6h0M819.6 648.0h0M826.3 648.0h0M837.5 650.2h0M841.3 649.2h0M849.5 651.0h0M873.4 657.7h0M871.9 661.2h0M895.4 653.7h0M913.5 670.7h0M919.0 671.6h0M922.7 672.7h0M929.4 674.5h0M859.9 652.2L867.4 659.2M877.1 661.8L894.3 669.7M954.2 675.2h0M956.4 676.0h0M960.2 677.6h0M965.4 679.1h0M974.1 680.1h0M976.6 682.7h0M980.1 686.6h0M990.1 687.6h0M996.8 688.7h0M1001.6 684.6h0M1006.8 683.9h0M1002.0 690.2h0M1007.3 690.2h0M1013.2 692.8h0M1015.5 691.3h0M1020.3 695.4h0M1025.9 697.3h0M1029.7 700.6h0M1031.9 698.4h0M1034.5 703.3h0M1037.9 699.9h0M1041.3 704.5h0M1054.3 706.6h0M1055.8 705.2h0M1058.5 709.3h0M1064.8 711.8h0M1072.0 710.5h0M1085.0 713.3h0M1087.2 714.8h0M1090.2 715.7h0M1094.0 716.8h0M1107.1 717.8h0M1148.2 719.3h0M1150.8 720.8h0M1157.9 710.3h0M1157.9 721.5h0M1180.1 722.7h0M1002.0 710.5h0M1007.3 710.5h0M1003.1 754.1h0M1017.4 754.1h0M1114.4 754.1h0M1121.6 754.1h0M1114.1 771.0h0M1116.8 773.6h0M1083.9 785.5h0M1096.2 785.5h0M1117.9 785.5h0M1002.0 794.0h0M1007.3 794.0h0M1024.8 794.0h0M1060.8 793.0h0M1062.9 793.0h0M1119.1 795.5h0M1127.6 797.5h0M1103.4 805.0h0M1115.6 808.7h0M1018.5 809.4h0M1018.5 812.4h0M1025.9 812.4h0M1179.2 805.0h0M1169.9 818.1h0M1177.4 819.4h0M1033.4 826.6h0M1062.3 826.6h0M1169.0 829.3h0M1113.1 842.6h0M1170.2 846.1h0M1130.6 800.5L1146.3 800.5M1187.0 723.9h0M1200.2 725.0h0M1218.6 726.9h0M1220.7 726.0h0M1289.9 741.0h0M1293.6 742.2h0M1306.6 743.2h0M1310.8 744.4h0M1313.8 745.9h0M1334.7 746.7h0M1335.9 748.1h0M1233.8 728.7L1242.8 733.5M1249.5 734.4L1257.7 739.5M1358.6 749.3L1369.1 753.4M1255.9 754.1h0M1207.4 780.6h0M1210.3 782.1h0M1251.7 781.0h0M1254.0 779.2h0M1327.2 789.0h0M1318.7 796.4h0M1329.9 797.5h0M1239.0 800.2h0M1259.2 800.5h0M1263.4 798.7h0M1206.2 809.4h0M1208.0 812.4h0M1248.5 809.7h0M1329.9 810.2h0M1328.7 813.2h0M1329.2 816.6h0M1298.1 826.6h0M1307.5 830.4h0M1309.6 830.4h0M1236.1 830.4h0M1238.3 830.4h0M1372.1 830.4h0M1381.8 826.6h0M1319.8 839.8h0M1321.3 842.3h0M1322.5 847.3h0M860.5 852.0L867.2 854.2M874.7 855.0L887.4 860.2L894.8 868.4L909.8 881.9M915.8 884.1h0M899.3 870.7h0M903.8 875.2h0M890.4 862.5h0M920.3 887.9L933.7 896.1L945.7 909.5L953.1 917.8L960.6 920.0L969.6 926.0M936.7 893.1h0M927.7 890.9h0M978.6 926.7L983.0 933.5L987.5 932.0M992.0 935.0h0M995.7 936.5h0M1022.6 943.9h0M998.0 932.0L1002.5 932.0M1001.7 938.4L1007.0 937.9M1005.5 943.9L1014.4 949.2L1021.9 953.6M1014.4 946.2h0M1021.2 950.7h0M1027.1 955.1L1036.8 959.6L1045.8 968.6L1057.8 975.3L1060.8 979.1L1071.2 983.5M1071.2 981.3h0M1083.9 985.0h0M1087.7 981.3h0M1089.2 985.8h0M958.4 871.4h0M946.1 900.6h0M1043.3 921.2h0M1045.4 921.2h0M1054.0 939.1h0M1072.0 937.9h0M1046.6 945.4h0M1052.5 945.4h0M1046.6 950.7L1051.8 949.2M1099.7 865.5h0M1103.5 865.5h0M1124.1 872.6h0M1146.8 863.2h0M1148.7 863.2h0M1179.2 865.5h0M1181.2 865.5h0M1168.9 887.4h0M1190.4 882.3h0M1192.4 882.3h0M1231.6 874.0h0M1233.2 874.0h0M1294.5 867.7h0M1312.7 867.7h0M1314.2 867.7h0M1294.5 884.9h0M1299.6 884.9h0M1292.2 896.8h0M1193.1 901.6h0M1194.6 901.6h0M1178.5 909.1h0M1171.2 911.5h0M1308.2 912.5h0M1310.8 912.5h0M1309.3 920.0h0M1310.8 920.0h0M1109.4 933.9h0M1111.4 933.9h0M1109.9 936.8h0M1096.3 941.7h0M1158.0 937.9h0M1183.4 941.7h0M1152.0 951.4h0M1153.1 963.4h0M1128.9 973.1h0M1217.1 980.3h0M1305.5 973.1h0M1155.5 986.5h0M1155.5 989.2h0M1166.4 988.8h0M1191.6 991.8h0M1202.4 988.8h0M1204.3 988.8h0M1186.9 996.2h0M1255.9 1009.4h0M1287.3 1008.2h0M1189.6 988.8L1194.5 988.8M1319.9 1000.0h0M1321.4 1002.2h0M1326.2 998.5h0M1325.4 1005.7h0M1327.4 1005.7h0M1330.1 1000.7h0M1090.7 982.0h0M1155.8 1036.6h0M1125.1 1013.4h0M1167.7 1038.1h0M1167.7 1041.8h0M1177.4 1043.3h0M1183.4 1039.6h0M1186.1 1043.3h0M1190.4 1048.1h0M1090.0 988.0L1092.2 991.8M1097.5 993.3L1104.9 995.5L1107.2 1003.7M1113.2 1004.5L1116.2 1009.0L1120.6 1011.2L1126.6 1010.4M1129.6 1013.4L1148.3 1032.9L1155.8 1036.6L1161.7 1040.3L1163.2 1044.1M1172.2 1044.8L1178.2 1046.3M1195.4 1049.3L1197.6 1053.8L1200.6 1054.5M1332.1 995.0h0M1333.9 995.0h0M1339.3 995.0h0M1362.3 871.4h0M1378.2 894.6h0M1381.8 958.6h0M1378.2 962.3h0M1376.7 991.5h0M1380.4 1038.4h0M1380.4 1042.1h0M1361.0 1050.5h0M1363.1 1050.5h0M1347.2 995.0L1354.4 995.0M1190.6 1048.2h0M1219.7 1066.1h0M1220.4 1066.9h0M1231.6 1067.6h0M1235.4 1072.1h0M1248.8 1060.1h0M1252.5 1061.6h0M1195.1 1050.4L1199.6 1057.2L1207.8 1060.1L1212.2 1064.6L1216.0 1071.3M1240.6 1074.3L1244.3 1078.8L1249.6 1080.6M1254.8 1081.8L1263.0 1084.8L1274.9 1110.1M1275.2 1088.1L1284.6 1105.7M1286.1 1123.3h0M1289.9 1124.8h0M1296.6 1124.3h0M1295.1 1127.3h0M1322.7 1139.3h0M1330.9 1140.0h0M1335.4 1146.3h0M1337.2 1148.2h0M1357.8 1150.0h0M1360.3 1150.0h0M1385.4 1156.4h0M1386.1 1155.7h0M1384.6 1157.2h0M1386.4 1150.4h0M1298.8 1128.8L1306.3 1134.8L1316.7 1141.5L1324.2 1143.7M1364.5 1150.4L1371.2 1155.7M1316.4 1120.9h0M1360.7 1050.7h0M1362.7 1050.7h0M1363.7 1067.6h0M1380.6 1042.2h0" fill="none" stroke="#94a92f" stroke-width="5" stroke-linecap="round" stroke-linejoin="round"/>
<path d="M276.7 200.0L284.2 210.5L296.9 234.4L299.9 244.8L305.9 253.8L314.8 281.5L323.8 295.7L335.8 316.6L347.7 337.5L351.5 348.0L359.7 355.5L377.6 377.9L391.1 400.3L394.1 404.0" fill="none" stroke="#94a92f" stroke-width="5.8" stroke-linecap="round" stroke-linejoin="round"/>
<path d="M392.7 404.0L402.4 415.2L409.1 429.4L421.1 437.6L425.6 439.9L430.8 450.3L436.1 454.1L439.8 462.3L446.5 471.3L454.7 489.9L461.5 501.2L465.2 508.6L471.9 515.4L473.4 522.1L478.7 529.6L484.6 534.0L492.1 543.0L502.6 554.2L520.5 572.2L523.5 578.9L531.0 587.9L535.5 592.3L541.4 596.8L544.4 602.8L550.4 608.0" fill="none" stroke="#94a92f" stroke-width="5.8" stroke-linecap="round" stroke-linejoin="round"/>
<path d="M446.5 471.3L454.7 489.9" fill="none" stroke="#94a92f" stroke-width="6.8" stroke-linecap="round" stroke-linejoin="round"/>
<path d="M550.4 608.0L559.8 618.9L565.8 626.3L572.5 634.6" fill="none" stroke="#94a92f" stroke-width="6.4" stroke-linecap="round" stroke-linejoin="round"/>
<path d="M523.2 580.0L534.4 589.7L541.9 596.4L544.8 603.9L550.4 608.0" fill="none" stroke="#94a92f" stroke-width="6.4" stroke-linecap="round" stroke-linejoin="round"/>
<path d="M874.7 855.0L887.4 860.2L894.8 868.4L909.8 881.9" fill="none" stroke="#94a92f" stroke-width="6.2" stroke-linecap="round" stroke-linejoin="round"/>
<path d="M920.3 887.9L933.7 896.1L945.7 909.5L953.1 917.8L960.6 920.0L969.6 926.0" fill="none" stroke="#94a92f" stroke-width="5.8" stroke-linecap="round" stroke-linejoin="round"/>
<path d="M1005.5 943.9L1014.4 949.2L1021.9 953.6" fill="none" stroke="#94a92f" stroke-width="6.2" stroke-linecap="round" stroke-linejoin="round"/>
<path d="M1027.1 955.1L1036.8 959.6L1045.8 968.6L1057.8 975.3L1060.8 979.1L1071.2 983.5" fill="none" stroke="#94a92f" stroke-width="5.8" stroke-linecap="round" stroke-linejoin="round"/>
<circle cx="373.7" cy="17.0" r="15.6" fill="#e42a00"/>
<circle cx="1130.1" cy="20.7" r="15.6" fill="#e42a00"/>
<circle cx="1265" cy="20.9" r="12" fill="#e69500"/>
<circle cx="1278.5" cy="20.5" r="15.5" fill="#e69500"/>
<circle cx="1286" cy="20.5" r="15.6" fill="#e42a00"/>
<circle cx="1386.7" cy="18.0" r="14.9" fill="#1a6480"/>
<circle cx="1386.7" cy="20.8" r="14.7" fill="#e44000"/>
<circle cx="1386.7" cy="177.1" r="14.6" fill="#e44000"/>
<circle cx="1386.7" cy="201.3" r="14.6" fill="#0a4a57"/>
<circle cx="1386.7" cy="236.1" r="14.6" fill="#e44000"/>
<circle cx="373.6" cy="201.3" r="15.6" fill="#003b40"/>
<circle cx="373.6" cy="204.8" r="15.6" fill="#e42a00"/>
<circle cx="373.8" cy="351" r="15.6" fill="#003b40"/>
<path d="M1275.5 201.3H1284.8" stroke="#2a7cab" stroke-width="23.0" stroke-linecap="round" fill="none"/>
<path d="M1275.5 204.2H1284.8" stroke="#e69500" stroke-width="23.6" stroke-linecap="round" fill="none"/>
<path d="M1275.6 351.2H1284.9" stroke="#2a7cab" stroke-width="23.2" stroke-linecap="round" fill="none"/>
<circle cx="1130.05" cy="535" r="15.6" fill="#e42a00"/>
<path d="M1264.9 534.9H1274" stroke="#e69500" stroke-width="23.4" stroke-linecap="round" fill="none"/>
<circle cx="1286.1" cy="535" r="15.6" fill="#e42a00"/>
<circle cx="1130.05" cy="815.9" r="15.6" fill="#003b40"/>
<path d="M1265 815.9H1273.7" stroke="#2a7cab" stroke-width="23.6" stroke-linecap="round" fill="none"/>
<circle cx="1286.1" cy="995" r="15.7" fill="#e42a00"/>
<circle cx="1286.1" cy="1121.2" r="15.8" fill="#003b40"/>
<circle cx="1327.1" cy="204.6" r="6.4" fill="#b5a818"/>
<circle cx="1327.4" cy="602.8" r="6.6" fill="#6f9f5e"/>
<circle cx="417.2" cy="380.2" r="4.6" fill="#8aa63e"/>
<circle cx="475.8" cy="380.2" r="3.6" fill="#9aa92a"/>
<circle cx="420.5" cy="194" r="3.8" fill="#a3a826"/>
<circle cx="462" cy="188.8" r="3.3" fill="#8da83e"/>
<circle cx="761.6" cy="19.9" r="4.0" fill="#8aab45"/>
<circle cx="769" cy="16.8" r="3.5" fill="#a0a828"/>
<circle cx="923.5" cy="21.1" r="3.5" fill="#a0a828"/>
<circle cx="972.7" cy="20.5" r="3.3" fill="#8aab45"/>
<circle cx="938.5" cy="21.1" r="3.2" fill="#8aab45"/>
<circle cx="524.8" cy="16.8" r="4.0" fill="#8aab50"/>
<circle cx="938.8" cy="380.1" r="3.3" fill="#9aa92a"/>
<circle cx="966.2" cy="194.3" r="3.3" fill="#9ca92a"/>
<circle cx="164.5" cy="18.5" r="3.4" fill="#94a92f"/>
<circle cx="525" cy="193.7" r="5.7" fill="#b5a81f"/>
<circle cx="769.4" cy="243.3" r="4.3" fill="#80a642"/>
<circle cx="856.1" cy="243.3" r="4.0" fill="#a3a827"/>
<circle cx="1000.50822122571" cy="622.1763826606875" r="3.6" fill="#8fa838"/>
<circle cx="1000.50822122571" cy="624.5680119581465" r="3.8" fill="#a2a823"/>
<circle cx="975.0971599402093" cy="644.0" r="5.0" fill="#a2a823"/>
<circle cx="762.03288490284" cy="773.5605381165919" r="4.0" fill="#88a840"/>
<circle cx="762.03288490284" cy="777.745889387145" r="4.4" fill="#a2a823"/>
<circle cx="975.4260089686098" cy="670.7204783258595" r="5.0" fill="#85a745"/>
<clipPath id="rc"><path d="M373.2 1.4000000000000004h16.6v31.2h-16.6zM1129.6 5.1h16.6v31.2h-16.6zM1264.5 8.899999999999999h13v24h-13zM1278.0 5.0h16.5v31.0h-16.5zM1285.5 4.9h16.6v31.2h-16.6zM1386.2 3.0999999999999996h15.9v29.8h-15.9zM1386.2 6.100000000000001h15.7v29.4h-15.7zM1386.2 162.5h15.6v29.2h-15.6zM1386.2 186.70000000000002h15.6v29.2h-15.6zM1386.2 221.5h15.6v29.2h-15.6zM373.1 185.70000000000002h16.6v31.2h-16.6zM373.1 189.20000000000002h16.6v31.2h-16.6zM373.3 335.4h16.6v31.2h-16.6zM1284.3 189.8h12.5v23.0h-12.5zM1284.3 192.39999999999998h12.8v23.6h-12.8zM1284.4 339.59999999999997h12.6v23.2h-12.6zM1129.55 519.4h16.6v31.2h-16.6zM1273.5 523.1999999999999h12.7v23.4h-12.7zM1285.6 519.4h16.6v31.2h-16.6zM1129.55 800.3h16.6v31.2h-16.6zM1273.2 804.1h12.8v23.6h-12.8zM1285.6 979.3h16.7v31.4h-16.7zM1285.6 1105.4h16.8v31.6h-16.8z"/></clipPath>
<use href="#ol" clip-path="url(#rc)"/>
<path d="M1386.7 204.6h0M1386.7 243.4h0M1386.5 289.3h0M1386.5 295.3h0M1386.5 301.3h0M1386.5 304.3h0M1386.5 310.3h0M1386.5 323.0h0M1386.5 354.8h0M1386.5 358.8h0M1386.5 364.4h0M1386.5 371.5h0M1386.5 378.3h0M1386.5 398.4h0M1386.5 415.2h0M1386.5 426.4h0M1386.4 502.3h0M1386.4 509.8h0M1386.4 555.4h0M1386.4 538.2h0M1386.7 774.8h0M1386.7 778.8h0M1386.7 783.3h0M1386.7 830.4h0M1386.4 863.2h0M1386.4 866.9h0M1386.4 918.5h0M1386.4 964.1h0M1386.4 974.6h0M1386.4 1006.0h0M1386.9 1054.9h0M1386.9 1066.1h0M1386.9 1075.8h0M1386.9 1136.3h0" fill="none" stroke="#94a92f" stroke-width="2.2" stroke-linecap="round"/>
</svg></body></html>
